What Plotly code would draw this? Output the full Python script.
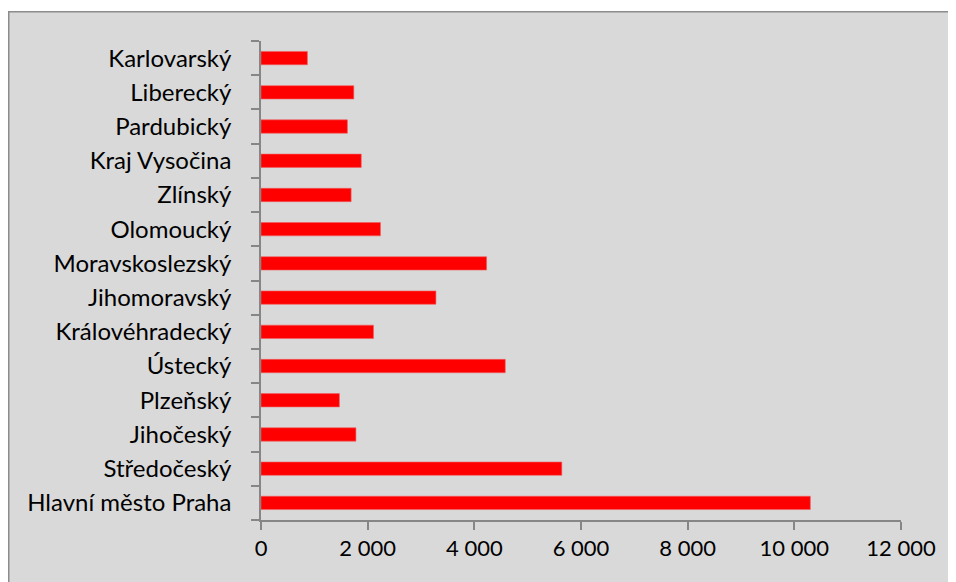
import plotly.graph_objects as go

regions = ["Hlavní město Praha", "Středočeský", "Jihočeský", "Plzeňský", "Ústecký",
           "Královéhradecký", "Jihomoravský", "Moravskoslezský", "Olomoucký", "Zlínský",
           "Kraj Vysočina", "Pardubický", "Liberecký", "Karlovarský"]
values = [10300, 5640, 1780, 1470, 4580, 2110, 3280, 4230, 2240, 1690, 1880, 1620, 1740, 870]
x_ticks = [0, 2000, 4000, 6000, 8000, 10000, 12000]

W, H = 948, 574
ml, mr, mt, mb = 253, 55, 33, 62
pw, ph = W - ml - mr, H - mt - mb

def px_x(p):
    return (p - ml) / pw

def px_y(p):
    return (H - mb - p) / ph

fig = go.Figure(go.Bar(
    x=values, y=regions, orientation="h",
    marker=dict(color="#ff0000", line=dict(width=0.6, color="#f06060")),
))

border = "#8c8c8c"
fig.add_shape(type="rect", xref="paper", yref="paper",
              x0=px_x(-5), x1=px_x(W + 5), y0=px_y(3), y1=px_y(-5),
              fillcolor="white", line=dict(width=0), layer="below")
fig.add_shape(type="line", xref="paper", yref="paper",
              x0=px_x(0.75), x1=px_x(0.75), y0=px_y(3), y1=px_y(H + 5),
              line=dict(color=border, width=1.5), layer="below")
fig.add_shape(type="line", xref="paper", yref="paper",
              x0=px_x(0), x1=px_x(W + 5), y0=px_y(3.75), y1=px_y(3.75),
              line=dict(color=border, width=1.5), layer="below")

axis_col = "#868686"
fig.update_layout(
    width=W, height=H,
    margin=dict(l=ml, r=mr, t=mt, b=mb),
    paper_bgcolor="#d9d9d9", plot_bgcolor="#d9d9d9",
    font=dict(family="Lato", size=24, color="#000000"),
    separators=", ",
    showlegend=False,
    bargap=0.61,
    xaxis=dict(range=[0, 12000], tickvals=x_ticks, tickformat=",d",
               showgrid=False, zeroline=False, showline=True, linecolor=axis_col, linewidth=1.5,
               ticks="outside", ticklen=8, tickcolor=axis_col, tickwidth=1.5,
               tickfont=dict(size=22), fixedrange=True),
    yaxis=dict(type="category", categoryorder="array", categoryarray=regions,
               showgrid=False, zeroline=False, showline=True, linecolor=axis_col, linewidth=1.5,
               ticks="outside", ticklen=8, tickcolor=axis_col, tickwidth=1.5,
               tickson="boundaries", ticklabelstandoff=23,
               tickfont=dict(size=24), fixedrange=True),
)

fig.write_html("out.html")
